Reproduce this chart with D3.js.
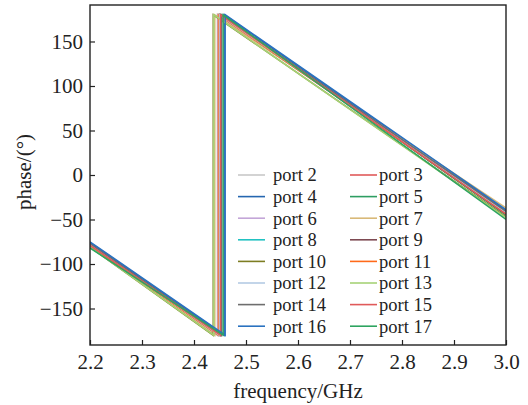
<!DOCTYPE html>
<html><head><meta charset="utf-8">
<script src="https://cdn.jsdelivr.net/npm/d3@7"></script>
<style>body{margin:0;background:#fff}svg{display:block}text{font-family:"Liberation Serif","Times New Roman",serif;fill:#222}</style>
</head><body><svg id="c" width="528" height="405"></svg>
<script>
const ports = ["port 2","port 3","port 4","port 5","port 6","port 7","port 8","port 9","port 10","port 11","port 12","port 13","port 14","port 15","port 16","port 17"];
const colors = ["#c8c8c8","#e05a5a","#2566b0","#2e9e62","#c3a6d8","#d9b978","#22c2c2","#7e4a52","#7d7d22","#ff6a1a","#b4cbe4","#a6d276","#6e6e6e","#e05a5a","#2a72c0","#2ea460"];
const startPhase = [-78,-79,-76,-79,-78,-80,-78,-79,-81,-79,-78,-81,-77,-79,-75,-82];
const jumpFreq   = [2.445,2.450,2.458,2.452,2.446,2.440,2.448,2.450,2.437,2.447,2.449,2.438,2.453,2.451,2.460,2.456];
const endPhase   = [-42,-44,-40,-45,-43,-37,-43,-44,-47,-43,-42,-48,-41,-44,-39,-50];
const xTicks = [2.2,2.3,2.4,2.5,2.6,2.7,2.8,2.9,3.0];
const yTicks = [-150,-100,-50,0,50,100,150];

const svg = d3.select("#c");
const L=90,R=506,T=5,B=345,FS=21,LFS=18.5;
const x = d3.scaleLinear().domain([2.2,3.0]).range([L,R]);
const y = d3.scaleLinear().domain([-191,191]).range([B,T]);

svg.append("clipPath").attr("id","cp").append("rect").attr("x",L).attr("y",T).attr("width",R-L).attr("height",B-T);
const line = d3.line().x(d=>x(d[0])).y(d=>y(d[1]));
const series = ports.map((p,i)=>[[2.2,startPhase[i]],[jumpFreq[i],-180],[jumpFreq[i],180],[3.0,endPhase[i]]]);
svg.append("g").attr("clip-path","url(#cp)").selectAll("path").data(series).join("path")
  .attr("d",line).attr("fill","none").attr("stroke",(d,i)=>colors[i]).attr("stroke-width",1.5);

const xa = svg.append("g").attr("transform",`translate(0,${B})`).call(d3.axisBottom(x).tickValues(xTicks).tickFormat(d3.format(".1f")).tickSizeInner(-5).tickSizeOuter(0).tickPadding(9));
const ya = svg.append("g").attr("transform",`translate(${L},0)`).call(d3.axisLeft(y).tickValues(yTicks).tickFormat(d=>d<0?"\u2212"+(-d):d).tickSizeInner(-5).tickSizeOuter(0).tickPadding(7));
[xa,ya].forEach(a=>{a.select(".domain").remove();a.selectAll("line").attr("stroke","#222").attr("stroke-width",1.2);a.selectAll("text").attr("font-size",FS).attr("fill","#222").style("font-family","Liberation Serif");});
svg.append("rect").attr("x",L).attr("y",T).attr("width",R-L).attr("height",B-T).attr("fill","none").attr("stroke","#222").attr("stroke-width",1.4);

svg.append("text").attr("x",298).attr("y",398).attr("text-anchor","middle").attr("font-size",FS).text("frequency/GHz");
svg.append("text").attr("transform",`translate(31,172) rotate(-90)`).attr("text-anchor","middle").attr("font-size",FS).text("phase/(°)");

const lg = svg.append("g");
ports.forEach((p,i)=>{
  const col=i%2,row=Math.floor(i/2);
  const lx = col===0?238:350, ty = 175+row*21.6;
  lg.append("line").attr("x1",lx).attr("x2",lx+27).attr("y1",ty).attr("y2",ty).attr("stroke",colors[i]).attr("stroke-width",1.6);
  lg.append("text").attr("x",lx+(col===0?35:29)).attr("y",ty).attr("dy","0.35em").attr("font-size",LFS).text(p);
});
</script></body></html>
